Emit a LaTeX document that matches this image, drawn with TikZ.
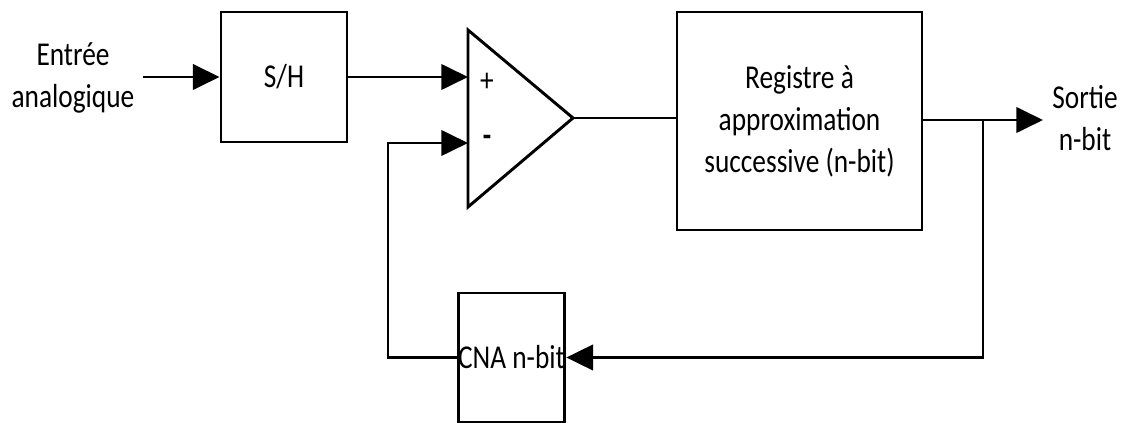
\documentclass[tikz,border=0pt]{standalone}
\usepackage{fontspec}
\setmainfont{Carlito}[FakeStretch=0.82]
\usetikzlibrary{arrows.meta}
\begin{document}
\begin{tikzpicture}[x=0.75pt, y=-0.75pt, line width=2.2pt, line join=miter,
  every node/.style={font=\fontsize{25}{31.5}\selectfont, align=center},
  block/.style={draw, inner sep=0pt},
  flow/.style={-{Triangle[length=20pt,width=19pt]}}]
  \useasboundingbox (0,0) rectangle (1124,423);
  % Draw blocks
  \node[block, minimum width=94.5pt, minimum height=97.5pt] (sh) at (284,77) {S/H};
  \node[block, minimum width=183.75pt, minimum height=163.5pt] (sar) at (799.5,121)
    {Registre à\\approximation\\successive (n-bit)};
  \node[block, minimum width=74.25pt, minimum height=96.75pt] (cna) at (511.5,357.5) {CNA n-bit};
  % Draw comparator
  \coordinate (top) at (468,30);
  \coordinate (bot) at (468,207);
  \coordinate (cmpout) at (573,118);
  \coordinate (inp) at (468,77);
  \coordinate (inm) at (468,143);
  \draw (top) -- (cmpout) -- (bot) -- cycle;
  \node (plus) at (487,82) {+};
  \node (minus) at (487,141) {\textbf{-}};
  % Labels
  \node (entree) at (73,78) {Entrée\\analogique};
  \node (sortie) at (1085,118) {Sortie\\n-bit};
  % Draw connections
  \coordinate (in) at (143,77);
  \coordinate (branch) at (983,120);
  \coordinate (outend) at (1043,120);
  \coordinate (fb) at (388,143);
  \draw[flow] (in) -- (sh.west);
  \draw[flow] (sh.east) -- (inp);
  \draw (cmpout) -- (cmpout -| sar.west);
  \draw[flow] (sar.east |- outend) -- (outend);
  \draw[flow] (branch) |- (cna.east);
  \draw[flow] (cna.west) -| (fb) -- (inm);
\end{tikzpicture}
\end{document}
